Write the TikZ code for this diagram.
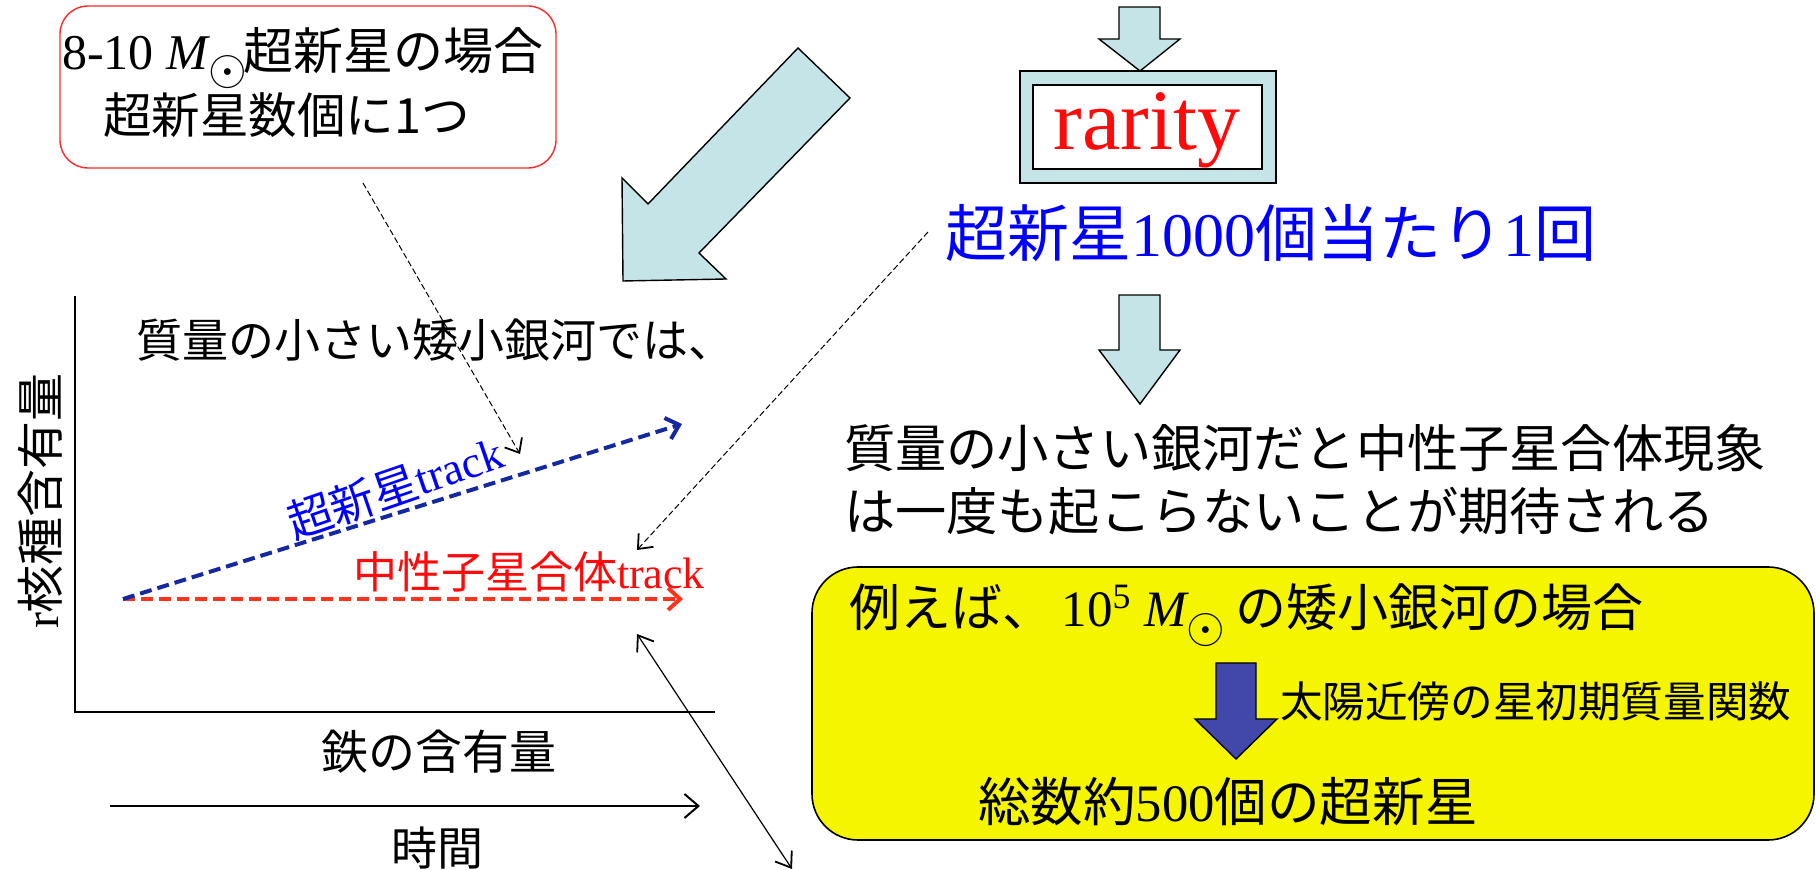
\documentclass[tikz,border=0pt]{standalone}
\usepackage{fontspec}
\usepackage{graphicx}
\setmainfont{Liberation Serif}
\newfontfamily\jp{Noto Sans CJK JP}
\usetikzlibrary{arrows.meta}
\definecolor{cyanfill}{RGB}{197,228,231}
\definecolor{boxred}{RGB}{255,40,40}
\definecolor{txtblue}{RGB}{0,0,255}
\definecolor{txtred}{RGB}{255,10,10}
\definecolor{trackblue}{RGB}{20,40,160}
\definecolor{trackred}{RGB}{255,50,30}
\definecolor{yel}{RGB}{245,245,0}
\definecolor{darkarrow}{RGB}{65,72,170}
\newcommand{\msun}{\textit{M}\kern-0.04em\raisebox{-0.3em}{\scalebox{1.0}{$\odot$}}\kern-0.06em}
\newcommand{\fs}[1]{\fontsize{#1}{#1}\selectfont}
\begin{document}
\begin{tikzpicture}[x=0.5pt,y=-0.5pt,
  every node/.style={inner sep=0pt,outer sep=0pt},
  blockarrow/.style={draw=black,line width=0.7pt,fill=cyanfill},
  thindash/.style={draw=black,line width=0.5pt,dash pattern=on 3pt off 1.5pt,-{Straight Barb[length=6pt,width=10pt,line width=0.9pt]}},
  trackline/.style={line width=2pt,dash pattern=on 6pt off 3pt,-{Straight Barb[length=6pt,width=11pt,line width=2pt]}},
  plainline/.style={draw=black,line width=0.7pt}]
\useasboundingbox (0,0) rectangle (1816,870);

% red rounded box
\draw[boxred,line width=0.7pt,rounded corners=14pt] (60,6) rectangle (556,168);
\node[anchor=base west] (rb1) at (62,70) {\fs{25pt}8-10 \msun{\jp 超新星の場合}};
\node[anchor=base west] (rb2) at (103,134) {\fs{24.3pt}\jp 超新星数個に1つ};

% big diagonal arrow
\draw[blockarrow] (798,48) -- (850,98) -- (699,253) -- (726,279) -- (623,281) -- (622,178) -- (648,204) -- cycle;

% top small arrow
\draw[blockarrow] (1119,7) -- (1160,7) -- (1160,39) -- (1180,39) -- (1140,71) -- (1099,39) -- (1119,39) -- cycle;

% rarity box
\draw[blockarrow] (1020,71) rectangle (1276,183);
\draw[black,line width=0.7pt,fill=white] (1033,85) rectangle (1262,169);
\node[anchor=base,text=txtred] (rarity) at (1147,150) {\fs{43pt}rarity};

% blue statement
\node[anchor=base,text=txtblue] (rate) at (1271,257) {\fs{31pt}{\jp 超新星}1000{\jp 個当たり}1{\jp 回}};

% lower small arrow
\draw[blockarrow] (1119,295) -- (1160,295) -- (1160,350) -- (1180,350) -- (1140,404) -- (1099,350) -- (1119,350) -- cycle;

% right paragraph
\node[anchor=west] (p1) at (844,448) {\fs{25.6pt}\jp 質量の小さい銀河だと中性子星合体現象};
\node[anchor=west] (p2) at (844,511) {\fs{25.6pt}\jp は一度も起こらないことが期待される};

% yellow box
\draw[black,line width=0.8pt,fill=yel,rounded corners=23pt] (812,567) rectangle (1814,840);
\node[anchor=base west] (ex) at (849,627) {\fs{25.5pt}{\jp 例えば、}\,10\textsuperscript{5} \msun{} {\jp の矮小銀河の場合}};
\draw[draw=black,line width=0.7pt,fill=darkarrow] (1216,663) -- (1256,663) -- (1256,719) -- (1277,719) -- (1236,759) -- (1195,719) -- (1216,719) -- cycle;
\node[anchor=west] (imf) at (1280,701) {\fs{21.3pt}\jp 太陽近傍の星初期質量関数};
\node[anchor=base west] (tot) at (978,822) {\fs{26.3pt}{\jp 総数約}500{\jp 個の超新星}};

% graph
\coordinate (ytop) at (75,296);
\coordinate (orig) at (75,712);
\coordinate (xend) at (715,712);
\draw[plainline] (ytop) -- (orig) -- (xend);
\node[rotate=90] (ylab) at (40,501) {\fs{24pt}r{\jp 核種含有量}};
\node[anchor=west] (small) at (136,340) {\fs{23pt}\jp 質量の小さい矮小銀河では、};

\coordinate (tstart) at (123,599);
\coordinate (snend) at (682,424);
\coordinate (nsend) at (683,599);
\draw[trackline,trackred] (tstart) -- (nsend);
\draw[trackline,trackblue] (tstart) -- (snend);
\node[rotate=19,text=txtblue] (snlab) at (395,487) {\fs{22.5pt}{\jp 超新星}track};
\node[anchor=west,text=txtred] (nslab) at (353,572) {\fs{22pt}{\jp 中性子星合体}track};

\node (fe) at (439,752) {\fs{23.5pt}\jp 鉄の含有量};
\coordinate (tm0) at (110,806);
\coordinate (tm1) at (700,806);
\draw[plainline,-{Straight Barb[length=7pt,width=12pt,line width=1pt]}] (tm0) -- (tm1);
\node (time) at (437,848) {\fs{23pt}\jp 時間};

% connectors
\coordinate (da0) at (363,183);
\coordinate (da1) at (520,454);
\draw[thindash] (da0) -- (da1);
\coordinate (db0) at (928,232);
\coordinate (db1) at (637,550);
\draw[thindash] (db0) -- (db1);
\coordinate (dd0) at (637,634);
\coordinate (dd1) at (792,869);
\draw[black,line width=0.6pt,{Straight Barb[length=7pt,width=10pt,line width=0.9pt]}-{Straight Barb[length=7pt,width=10pt,line width=0.9pt]}] (dd0) -- (dd1);
\end{tikzpicture}
\end{document}
